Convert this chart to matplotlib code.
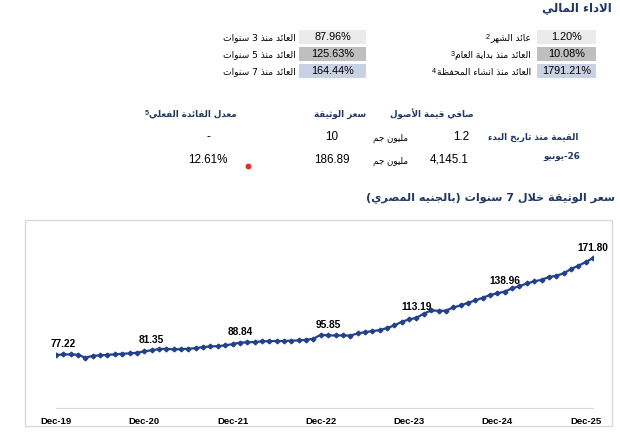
import matplotlib
matplotlib.use("Agg")
import matplotlib.pyplot as plt
from matplotlib.patches import Rectangle

# monthly unit price, Dec-19 .. (74 points)
prices = [76.6, 77.22, 77.2, 76.9, 74.0, 75.9, 76.2, 76.9, 77.2, 77.9, 78.2, 78.9,
          80.2, 81.35, 82.4, 82.8, 82.1, 82.4, 82.8, 83.4, 84.4, 85.1, 85.4, 86.1,
          87.3, 88.84, 89.1, 89.4, 90.0, 90.3, 90.4, 90.4, 90.7, 91.0, 91.6, 92.6,
          96.6, 95.85, 95.9, 95.9, 95.7, 97.8, 99.1, 100.1, 101.1, 103.1, 105.7, 109.3,
          111.6, 113.19, 117.2, 120.4, 120.1, 120.1, 123.4, 125.3, 128.0, 130.2, 132.9, 135.5,
          137.2, 138.96, 142.0, 144.3, 146.9, 148.9, 150.5, 153.2, 154.5, 156.8, 161.0, 164.3,
          167.9, 171.80]
tick_pos = [0, 12, 24, 36, 48, 60, 72]
tick_labels = ["Dec-19", "Dec-20", "Dec-21", "Dec-22", "Dec-23", "Dec-24", "Dec-25"]
label_idx = [1, 13, 25, 37, 49, 61, 73]

right_names = ["عائد الشهر", "العائد منذ بداية العام", "العائد منذ انشاء المحفظة"]
right_notes = [2, 3, 4]
right_values = ["1.20%", "10.08%", "1791.21%"]
left_names = ["العائد منذ 3 سنوات", "العائد منذ 5 سنوات", "العائد منذ 7 سنوات"]
left_values = ["87.96%", "125.63%", "164.44%"]
box_colors = ["#ebebeb", "#bfbfbf", "#c9d1e4"]

headers = ["صافي قيمة الأصول", "سعر الوثيقة", "معدل الفائدة الفعلي"]
header_note = 5
row_names = ["القيمة منذ تاريخ البدء", "يونيو-26"]
nav_values = ["1.2", "4,145.1"]
unit = "مليون جم"
unit_prices = ["10", "186.89"]
yields = ["-", "12.61%"]

title = "الاداء المالي"
chart_title = "سعر الوثيقة خلال 7 سنوات (بالجنيه المصري)"

NAVY = "#1f3864"
LINE = "#22408c"

# --- small arabic shaper (matplotlib does no shaping / bidi) ---
FORMS = {
    'ء': (0xFE80, 1), 'آ': (0xFE81, 2), 'أ': (0xFE83, 2), 'ؤ': (0xFE85, 2),
    'إ': (0xFE87, 2), 'ئ': (0xFE89, 4), 'ا': (0xFE8D, 2), 'ب': (0xFE8F, 4),
    'ة': (0xFE93, 2), 'ت': (0xFE95, 4), 'ث': (0xFE99, 4), 'ج': (0xFE9D, 4),
    'ح': (0xFEA1, 4), 'خ': (0xFEA5, 4), 'د': (0xFEA9, 2), 'ذ': (0xFEAB, 2),
    'ر': (0xFEAD, 2), 'ز': (0xFEAF, 2), 'س': (0xFEB1, 4), 'ش': (0xFEB5, 4),
    'ص': (0xFEB9, 4), 'ض': (0xFEBD, 4), 'ط': (0xFEC1, 4), 'ظ': (0xFEC5, 4),
    'ع': (0xFEC9, 4), 'غ': (0xFECD, 4), 'ف': (0xFED1, 4), 'ق': (0xFED5, 4),
    'ك': (0xFED9, 4), 'ل': (0xFEDD, 4), 'م': (0xFEE1, 4), 'ن': (0xFEE5, 4),
    'ه': (0xFEE9, 4), 'و': (0xFEED, 2), 'ى': (0xFEEF, 2), 'ي': (0xFEF1, 4),
}
LAM_ALEF = {'آ': 0xFEF5, 'أ': 0xFEF7, 'إ': 0xFEF9, 'ا': 0xFEFB}


def shape(s):
    units = []
    i = 0
    while i < len(s):
        if s[i] == 'ل' and i + 1 < len(s) and s[i + 1] in LAM_ALEF:
            units.append((LAM_ALEF[s[i + 1]], 2))
            i += 2
        elif s[i] in FORMS:
            units.append(FORMS[s[i]])
            i += 1
        else:
            units.append((s[i], 0))
            i += 1
    out = []
    for k, (base, kind) in enumerate(units):
        if kind == 0:
            out.append(base)
            continue
        prev = units[k - 1][1] if k > 0 else 0
        nxt = units[k + 1][1] if k + 1 < len(units) else 0
        jp = prev == 4 and kind in (2, 4)
        jn = kind == 4 and nxt in (2, 4)
        if kind == 1:
            f = 0
        elif jp and jn:
            f = 3
        elif jn:
            f = 2
        elif jp:
            f = 1
        else:
            f = 0
        out.append(chr(base + f))
    return "".join(out)


def ar(s, rtl=True):
    s = shape(s)
    runs = []
    for ch in s:
        ltr = ch.isascii() and (ch.isalnum() or ch in "%.,-")
        if runs and runs[-1][0] == ltr:
            runs[-1][1].append(ch)
        else:
            runs.append([ltr, [ch]])
    mirror = {'(': ')', ')': '('}
    parts = []
    for ltr, chars in runs:
        if ltr:
            parts.append("".join(chars))
        else:
            parts.append("".join(mirror.get(c, c) for c in reversed(chars)))
    if rtl:
        parts.reverse()
    return "".join(parts)


AR_FONT = "DejaVu Sans"
NUM_FONT = "Liberation Sans"

fig = plt.figure(figsize=(6.2, 4.38), dpi=100)
ov = fig.add_axes([0, 0, 1, 1])
ov.set_xlim(0, 620)
ov.set_ylim(438, 0)
ov.axis("off")
renderer = fig.canvas.get_renderer()


def note_left(t, note, color="black"):
    # superscript footnote number just left of a right-aligned label
    bb = t.get_window_extent(renderer)
    x0, y1 = ov.transData.inverted().transform((bb.x0, bb.y1))
    ov.text(x0 - 0.5, y1 + 0.5, str(note), ha="right", va="top", fontsize=5.2,
            color=color, family=NUM_FONT, fontweight="bold" if color != "black" else "normal")


ov.text(612, 8, ar(title), ha="right", va="center", fontsize=8.5, fontweight="bold",
        color=NAVY, family=AR_FONT)

rows_y = [37, 54, 71]
for k, y in enumerate(rows_y):
    ov.add_patch(Rectangle((537, y - 7), 59, 14, facecolor=box_colors[k], edgecolor="none"))
    ov.add_patch(Rectangle((299, y - 7), 67, 14, facecolor=box_colors[k], edgecolor="none"))
    ov.text(566.5, y, right_values[k], ha="center", va="center", fontsize=7.8,
            family=NUM_FONT)
    ov.text(332.5, y, left_values[k], ha="center", va="center", fontsize=7.8,
            family=NUM_FONT)
    t = ov.text(531, y + 1, ar(right_names[k]), ha="right", va="center",
                fontsize=6.6, family=AR_FONT)
    note_left(t, right_notes[k])
    ov.text(296, y + 1, ar(left_names[k]), ha="right", va="center", fontsize=6.6,
            family=AR_FONT)

# table
ov.text(432, 114, ar(headers[0]), ha="center", va="center", fontsize=6.3,
        fontweight="bold", color=NAVY, family=AR_FONT)
ov.text(340, 114, ar(headers[1]), ha="center", va="center", fontsize=6.3,
        fontweight="bold", color=NAVY, family=AR_FONT)
t = ov.text(237, 114, ar(headers[2]), ha="right", va="center", fontsize=6.3,
            fontweight="bold", color=NAVY, family=AR_FONT)
note_left(t, header_note, color=NAVY)

table_y = [137, 160]
ov.text(578, 137, ar(row_names[0]), ha="right", va="center", fontsize=6.3,
        fontweight="bold", color=NAVY, family=AR_FONT)
ov.text(580, 156, ar(row_names[1], rtl=False), ha="right", va="center", fontsize=6.3,
        fontweight="bold", color=NAVY, family=AR_FONT)
for k, y in enumerate(table_y):
    ov.text(469, y, nav_values[k], ha="right", va="center", fontsize=8.4, family=NUM_FONT)
    ov.text(391, y + 1, ar(unit), ha="center", va="center", fontsize=6.3, family=AR_FONT)
    ov.text(332, y, unit_prices[k], ha="center", va="center", fontsize=8.4, family=NUM_FONT)
    ov.text(228 if k else 208, y, yields[k], ha="right" if k else "center", va="center",
            fontsize=8.4, family=NUM_FONT)
ov.plot([247.7], [166], "o", color="#e32b2b", ms=3.2)

ov.text(615, 198, ar(chart_title), ha="right", va="center", fontsize=8.1,
        fontweight="bold", color=NAVY, family=AR_FONT)
ov.add_patch(Rectangle((25, 220), 586.5, 205.5, facecolor="none", edgecolor="#d9d9d9", lw=1))

# price chart
ax = fig.add_axes([56 / 620, 1 - 407.6 / 438, 537 / 620, (407.6 - 229.4) / 438])
ax.patch.set_alpha(0)
x = list(range(len(prices)))
ax.plot(x, prices, color=LINE, lw=1.6, marker="D", ms=2.4, mec=LINE, mfc=LINE)
ax.set_xlim(0, len(prices) - 1)
ax.set_ylim(25, 200)
for s in ["top", "left", "right"]:
    ax.spines[s].set_visible(False)
ax.spines["bottom"].set_color("#d9d9d9")
ax.set_yticks([])
ax.set_xticks(tick_pos)
ax.set_xticklabels(tick_labels, fontsize=6.8, fontweight="bold", family=NUM_FONT)
ax.tick_params(axis="x", length=0, pad=6.5)
for i in label_idx:
    ax.annotate(f"{prices[i]:.2f}", (i, prices[i]), xytext=(0, 7.6), textcoords="offset points",
                ha="center", va="center", fontsize=7.3, fontweight="bold", family=NUM_FONT)

fig.savefig("out.png", dpi=100)
